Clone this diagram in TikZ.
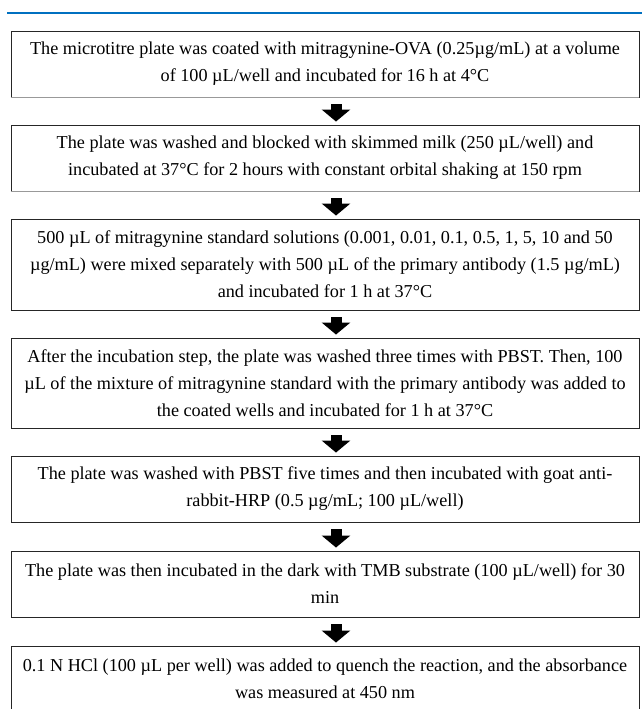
\documentclass[tikz,border=0pt]{standalone}
\usepackage{fontspec}
\setmainfont{Liberation Serif}
\usetikzlibrary{arrows.meta}
\definecolor{topblue}{RGB}{0,112,192}
\begin{document}
\begin{tikzpicture}[x=1pt,y=-1pt,
  stepbox/.style={draw=black!85, line width=0.9pt, minimum width=628pt, inner sep=0pt,
    align=center, font=\fontsize{18.2}{27}\selectfont},
  fatarrow/.style={line width=11pt, -{Triangle[width=28pt,length=12pt]}, shorten <=7pt, shorten >=3pt},
  shadowedge/.style={draw=black!40, line width=1.6pt}]
\useasboundingbox (0,0) rectangle (642,709);
\clip (0,0) rectangle (642,709);
\draw[topblue, line width=2.5pt] (7,13) -- (642,13);

\node[stepbox, minimum height=66pt] (b1) at (325,64)
  {The microtitre plate was coated with mitragynine-OVA (0.25µg/mL) at a volume\\
   of 100 µL/well and incubated for 16 h at 4°C};
\node[stepbox, minimum height=66pt] (b2) at (325,158)
  {The plate was washed and blocked with skimmed milk (250 µL/well) and\\
   incubated at 37°C for 2 hours with constant orbital shaking at 150 rpm};
\node[stepbox, minimum height=91pt] (b3) at (325,264.5)
  {500 µL of mitragynine standard solutions (0.001, 0.01, 0.1, 0.5, 1, 5, 10 and 50\\
   µg/mL) were mixed separately with 500 µL of the primary antibody (1.5 µg/mL)\\
   and incubated for 1 h at 37°C};
\node[stepbox, minimum height=90pt] (b4) at (325,383)
  {After the incubation step, the plate was washed three times with PBST. Then, 100\\
   µL of the mixture of mitragynine standard with the primary antibody was added to\\
   the coated wells and incubated for 1 h at 37°C};
\node[stepbox, minimum height=66pt] (b5) at (325,489)
  {The plate was washed with PBST five times and then incubated with goat anti-\\
   rabbit-HRP (0.5 µg/mL; 100 µL/well)};
\node[stepbox, minimum height=66pt] (b6) at (325,584)
  {The plate was then incubated in the dark with TMB substrate (100 µL/well) for 30\\
   min};
\node[stepbox, minimum height=66pt] (b7) at (325,679)
  {0.1 N HCl (100 µL per well) was added to quench the reaction, and the absorbance\\
   was measured at 450 nm};

\draw[shadowedge] (b1.south west) -- (b1.south east);
\draw[shadowedge] (b2.south west) -- (b2.south east);

\coordinate (ax) at (336,0);
\foreach \a/\b in {b1/b2,b2/b3,b3/b4,b4/b5,b5/b6,b6/b7}
  \draw[fatarrow] (\a.south -| ax) -- (\b.north -| ax);
\end{tikzpicture}
\end{document}
